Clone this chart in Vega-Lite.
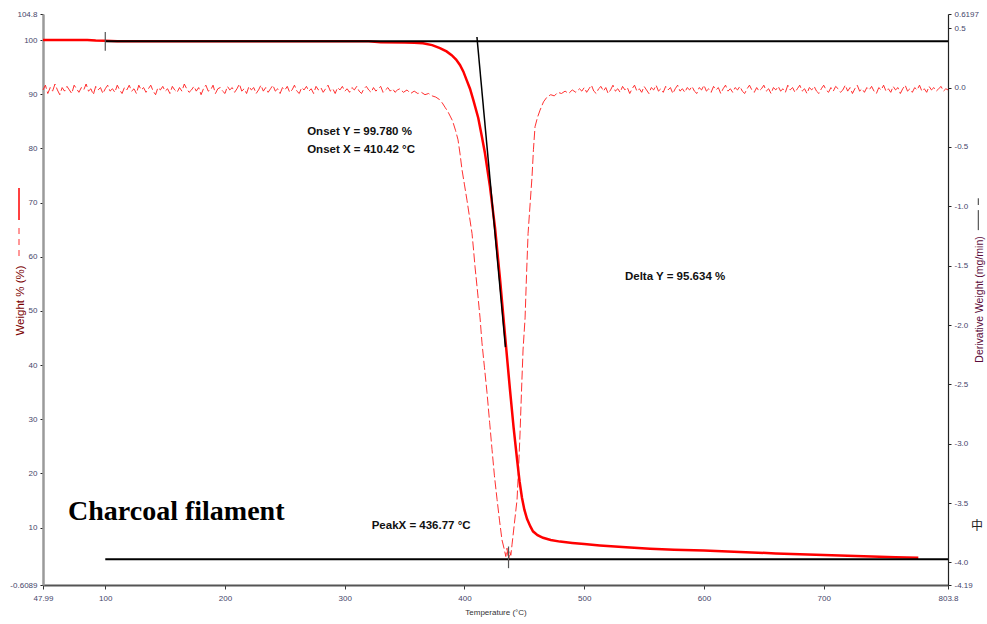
{
  "$schema": "https://vega.github.io/schema/vega-lite/v6.json",
  "width": 905,
  "height": 571,
  "autosize": {"type": "none"},
  "padding": {"left": 43, "top": 14, "right": 39, "bottom": 39},
  "background": "white",
  "config": {
    "view": {"stroke": null},
    "axis": {"grid": false, "labelFont": "Liberation Sans", "titleFont": "Liberation Sans", "labelFlush": false, "labelOverlap": false}
  },
  "datasets": {
    "deriv": [
      {"t":48,"d":-0.02},{"t":50,"d":0.02},{"t":52,"d":-0.05},{"t":54,"d":0.0},{"t":56,"d":-0.03},{"t":58,"d":0.03},{"t":60,"d":-0.02},{"t":62,"d":-0.06},{"t":64,"d":0.0},{"t":66,"d":-0.03},
      {"t":68,"d":0.01},{"t":70,"d":-0.02},{"t":72,"d":-0.05},{"t":74,"d":0.02},{"t":76,"d":-0.01},{"t":78,"d":-0.04},{"t":80,"d":0.0},{"t":82,"d":-0.02},{"t":84,"d":0.03},{"t":86,"d":-0.03},
      {"t":88,"d":-0.01},{"t":90,"d":-0.06},{"t":92,"d":0.01},{"t":94,"d":-0.02},{"t":96,"d":0.0},{"t":98,"d":-0.05},{"t":100,"d":-0.01},{"t":102,"d":0.02},{"t":104,"d":-0.03},{"t":106,"d":-0.01},
      {"t":108,"d":-0.04},{"t":110,"d":0.02},{"t":112,"d":-0.02},{"t":114,"d":-0.05},{"t":116,"d":0.0},{"t":118,"d":-0.02},{"t":120,"d":0.02},{"t":122,"d":-0.03},{"t":124,"d":-0.01},{"t":126,"d":-0.05},
      {"t":128,"d":0.02},{"t":130,"d":-0.02},{"t":132,"d":0.0},{"t":134,"d":-0.04},{"t":136,"d":-0.01},{"t":138,"d":0.02},{"t":140,"d":-0.03},{"t":142,"d":-0.06},{"t":144,"d":0.0},{"t":146,"d":-0.02},
      {"t":148,"d":0.01},{"t":150,"d":-0.03},{"t":152,"d":-0.01},{"t":154,"d":-0.05},{"t":156,"d":0.01},{"t":158,"d":-0.02},{"t":160,"d":-0.04},{"t":162,"d":0.0},{"t":164,"d":-0.03},{"t":166,"d":0.03},
      {"t":168,"d":-0.01},{"t":170,"d":-0.04},{"t":172,"d":-0.02},{"t":174,"d":0.01},{"t":176,"d":-0.03},{"t":178,"d":0.0},{"t":180,"d":-0.06},{"t":182,"d":-0.01},{"t":184,"d":0.02},{"t":186,"d":-0.03},
      {"t":188,"d":-0.02},{"t":190,"d":0.02},{"t":192,"d":-0.05},{"t":194,"d":-0.01},{"t":196,"d":0.0},{"t":198,"d":-0.03},{"t":200,"d":-0.05},{"t":202,"d":0.01},{"t":204,"d":-0.02},{"t":206,"d":0.0},
      {"t":208,"d":-0.04},{"t":210,"d":-0.01},{"t":212,"d":0.03},{"t":214,"d":-0.03},{"t":216,"d":-0.01},{"t":218,"d":-0.05},{"t":220,"d":0.01},{"t":222,"d":-0.02},{"t":224,"d":0.0},{"t":226,"d":-0.05},
      {"t":228,"d":-0.02},{"t":230,"d":0.02},{"t":232,"d":-0.03},{"t":234,"d":0.0},{"t":236,"d":-0.04},{"t":238,"d":-0.01},{"t":240,"d":0.02},{"t":242,"d":-0.03},{"t":244,"d":-0.01},{"t":246,"d":-0.05},
      {"t":248,"d":0.0},{"t":250,"d":-0.02},{"t":252,"d":0.01},{"t":254,"d":-0.04},{"t":256,"d":-0.02},{"t":258,"d":0.02},{"t":260,"d":-0.03},{"t":262,"d":-0.05},{"t":264,"d":0.0},{"t":266,"d":-0.02},
      {"t":268,"d":0.01},{"t":270,"d":-0.03},{"t":272,"d":-0.01},{"t":274,"d":-0.05},{"t":276,"d":0.01},{"t":278,"d":-0.02},{"t":280,"d":0.0},{"t":282,"d":-0.04},{"t":284,"d":-0.01},{"t":286,"d":0.02},
      {"t":288,"d":-0.03},{"t":290,"d":-0.01},{"t":292,"d":-0.05},{"t":294,"d":0.0},{"t":296,"d":-0.02},{"t":298,"d":0.01},{"t":300,"d":-0.03},{"t":302,"d":-0.01},{"t":304,"d":-0.04},{"t":306,"d":0.0},
      {"t":308,"d":-0.02},{"t":310,"d":0.01},{"t":312,"d":-0.03},{"t":314,"d":-0.05},{"t":316,"d":-0.01},{"t":318,"d":0.01},{"t":320,"d":-0.02},{"t":322,"d":-0.04},{"t":324,"d":0.0},{"t":326,"d":-0.03},
      {"t":328,"d":-0.01},{"t":330,"d":0.01},{"t":332,"d":-0.04},{"t":334,"d":-0.02},{"t":336,"d":0.0},{"t":338,"d":-0.03},{"t":340,"d":-0.01},{"t":342,"d":-0.04},{"t":344,"d":-0.02},{"t":346,"d":-0.01},
      {"t":349,"d":-0.04},{"t":352,"d":-0.02},{"t":355,"d":-0.05},{"t":358,"d":-0.03},{"t":361,"d":-0.05},{"t":364,"d":-0.04},{"t":367,"d":-0.06},{"t":370,"d":-0.05},{"t":373,"d":-0.07},{"t":376,"d":-0.08},
      {"t":379,"d":-0.1},{"t":381.5,"d":-0.13},{"t":384,"d":-0.17},{"t":386,"d":-0.2},{"t":388,"d":-0.24},{"t":390,"d":-0.28},{"t":392.5,"d":-0.36},{"t":394.6,"d":-0.44},{"t":396.3,"d":-0.56},{"t":397.9,"d":-0.69},
      {"t":400,"d":-0.82},{"t":402.1,"d":-0.95},{"t":404.2,"d":-1.09},{"t":406.3,"d":-1.23},{"t":407.5,"d":-1.36},{"t":408.8,"d":-1.51},{"t":411,"d":-1.73},{"t":413,"d":-1.94},{"t":414.6,"d":-2.15},{"t":416.7,"d":-2.36},
      {"t":418.8,"d":-2.57},{"t":421,"d":-2.82},{"t":423,"d":-3.05},{"t":425,"d":-3.27},{"t":427.2,"d":-3.47},{"t":429.3,"d":-3.65},{"t":431.3,"d":-3.81},{"t":433,"d":-3.88},{"t":434.5,"d":-3.95},{"t":435.5,"d":-3.88},
      {"t":436.77,"d":-3.99},{"t":437.8,"d":-3.91},{"t":438.7,"d":-3.94},{"t":439.7,"d":-3.85},{"t":441.8,"d":-3.66},{"t":443.9,"d":-3.47},{"t":445.2,"d":-3.2},{"t":446.4,"d":-2.91},{"t":447.6,"d":-2.56},{"t":448.9,"d":-2.21},
      {"t":450.6,"d":-1.94},{"t":451.8,"d":-1.58},{"t":453.1,"d":-1.23},{"t":454.8,"d":-0.98},{"t":456.4,"d":-0.75},{"t":457.6,"d":-0.52},{"t":458.9,"d":-0.33},{"t":461,"d":-0.25},{"t":463.1,"d":-0.19},{"t":466,"d":-0.12},
      {"t":468.9,"d":-0.08},{"t":472,"d":-0.06},{"t":475,"d":-0.07},{"t":478,"d":-0.04},{"t":481,"d":-0.05},{"t":484,"d":-0.03},{"t":487,"d":-0.05},{"t":490,"d":-0.02},{"t":493,"d":-0.04},{"t":496,"d":-0.01},
      {"t":498,"d":-0.03},{"t":500,"d":0.0},{"t":502,"d":-0.04},{"t":504,"d":-0.01},{"t":506,"d":0.02},{"t":508,"d":-0.03},{"t":510,"d":-0.05},{"t":512,"d":-0.01},{"t":514,"d":0.01},{"t":516,"d":-0.03},
      {"t":518,"d":0.0},{"t":520,"d":-0.05},{"t":522,"d":-0.02},{"t":524,"d":0.02},{"t":526,"d":-0.03},{"t":528,"d":-0.01},{"t":530,"d":-0.04},{"t":532,"d":0.01},{"t":534,"d":-0.02},{"t":536,"d":0.0},
      {"t":538,"d":-0.05},{"t":540,"d":-0.01},{"t":542,"d":0.02},{"t":544,"d":-0.03},{"t":546,"d":-0.01},{"t":548,"d":-0.04},{"t":550,"d":0.01},{"t":552,"d":-0.02},{"t":554,"d":-0.05},{"t":556,"d":0.0},
      {"t":558,"d":-0.02},{"t":560,"d":0.02},{"t":562,"d":-0.03},{"t":564,"d":-0.01},{"t":566,"d":-0.04},{"t":568,"d":0.01},{"t":570,"d":-0.02},{"t":572,"d":0.0},{"t":574,"d":-0.05},{"t":576,"d":-0.01},
      {"t":578,"d":0.02},{"t":580,"d":-0.03},{"t":582,"d":-0.01},{"t":584,"d":-0.04},{"t":586,"d":0.0},{"t":588,"d":-0.02},{"t":590,"d":0.01},{"t":592,"d":-0.03},{"t":594,"d":-0.05},{"t":596,"d":0.0},
      {"t":598,"d":-0.02},{"t":600,"d":0.02},{"t":602,"d":-0.03},{"t":604,"d":-0.01},{"t":606,"d":-0.04},{"t":608,"d":0.01},{"t":610,"d":-0.02},{"t":612,"d":0.0},{"t":614,"d":-0.05},{"t":616,"d":-0.01},
      {"t":618,"d":0.02},{"t":620,"d":-0.03},{"t":622,"d":-0.01},{"t":624,"d":-0.04},{"t":626,"d":0.0},{"t":628,"d":-0.02},{"t":630,"d":0.01},{"t":632,"d":-0.03},{"t":634,"d":-0.05},{"t":636,"d":-0.01},
      {"t":638,"d":0.02},{"t":640,"d":-0.02},{"t":642,"d":-0.04},{"t":644,"d":0.0},{"t":646,"d":-0.03},{"t":648,"d":-0.01},{"t":650,"d":0.02},{"t":652,"d":-0.03},{"t":654,"d":-0.01},{"t":656,"d":-0.05},
      {"t":658,"d":0.0},{"t":660,"d":-0.02},{"t":662,"d":0.01},{"t":664,"d":-0.03},{"t":666,"d":-0.01},{"t":668,"d":-0.04},{"t":670,"d":0.02},{"t":672,"d":-0.02},{"t":674,"d":0.0},{"t":676,"d":-0.04},
      {"t":678,"d":-0.01},{"t":680,"d":0.02},{"t":682,"d":-0.03},{"t":684,"d":-0.01},{"t":686,"d":-0.05},{"t":688,"d":0.0},{"t":690,"d":-0.02},{"t":692,"d":0.01},{"t":694,"d":-0.03},{"t":696,"d":-0.05},
      {"t":698,"d":-0.01},{"t":700,"d":0.02},{"t":702,"d":-0.02},{"t":704,"d":-0.04},{"t":706,"d":0.0},{"t":708,"d":-0.03},{"t":710,"d":0.01},{"t":712,"d":-0.01},{"t":714,"d":-0.04},{"t":716,"d":-0.02},
      {"t":718,"d":0.02},{"t":720,"d":-0.03},{"t":722,"d":0.0},{"t":724,"d":-0.05},{"t":726,"d":-0.01},{"t":728,"d":0.02},{"t":730,"d":-0.03},{"t":732,"d":-0.01},{"t":734,"d":-0.04},{"t":736,"d":0.0},
      {"t":738,"d":-0.02},{"t":740,"d":0.01},{"t":742,"d":-0.03},{"t":744,"d":-0.05},{"t":746,"d":0.0},{"t":748,"d":-0.02},{"t":750,"d":0.02},{"t":752,"d":-0.03},{"t":754,"d":-0.01},{"t":756,"d":-0.04},
      {"t":758,"d":0.01},{"t":760,"d":-0.02},{"t":762,"d":0.0},{"t":764,"d":-0.05},{"t":766,"d":-0.01},{"t":768,"d":0.02},{"t":770,"d":-0.03},{"t":772,"d":-0.01},{"t":774,"d":-0.04},{"t":776,"d":0.0},
      {"t":778,"d":-0.02},{"t":780,"d":0.02},{"t":782,"d":-0.03},{"t":784,"d":-0.01},{"t":786,"d":-0.04},{"t":788,"d":0.01},{"t":790,"d":-0.02},{"t":792,"d":0.0},{"t":794,"d":-0.03},{"t":796,"d":-0.01},
      {"t":798,"d":0.01},{"t":800,"d":-0.03},{"t":802,"d":-0.01},{"t":803.8,"d":-0.02}
    ],
    "weight": [
      {"t":48,"w":100},{"t":85,"w":100},{"t":92,"w":99.9},{"t":100,"w":99.85},{"t":110,"w":99.78},{"t":320,"w":99.75},{"t":330,"w":99.6},{"t":350,"w":99.55},{"t":358,"w":99.5},{"t":365.3,"w":99.4},
      {"t":373,"w":99.05},{"t":379.5,"w":98.5},{"t":385,"w":97.9},{"t":389.3,"w":97.2},{"t":393,"w":96.4},{"t":396.2,"w":95.4},{"t":399,"w":94.2},{"t":401.8,"w":92.6},{"t":404.6,"w":91.0},{"t":407.4,"w":88.9},
      {"t":411.5,"w":85.6},{"t":414.5,"w":82.2},{"t":417.1,"w":79.1},{"t":421.3,"w":72.9},{"t":425.5,"w":65.3},{"t":429.7,"w":55.8},{"t":433.8,"w":45.6},{"t":438,"w":35.4},{"t":441,"w":28.5},{"t":443.9,"w":22.6},
      {"t":446,"w":18.5},{"t":448,"w":15.5},{"t":450,"w":13.3},{"t":452.2,"w":11.6},{"t":455,"w":10.2},{"t":457.2,"w":9.3},{"t":461,"w":8.6},{"t":465.6,"w":8.1},{"t":472,"w":7.7},{"t":479.8,"w":7.4},
      {"t":490,"w":7.15},{"t":500,"w":6.95},{"t":513,"w":6.7},{"t":535,"w":6.35},{"t":555,"w":6.1},{"t":575,"w":5.92},{"t":600,"w":5.75},{"t":620,"w":5.58},{"t":640,"w":5.4},{"t":660,"w":5.22},
      {"t":680,"w":5.07},{"t":700,"w":4.95},{"t":720,"w":4.8},{"t":740,"w":4.65},{"t":760,"w":4.5},{"t":779,"w":4.4}
    ],
    "baselines": [
      {"t1":100,"t2":803.8,"w1":99.78,"w2":99.78},
      {"t1":100,"t2":803.8,"w1":4.146,"w2":4.146}
    ],
    "tangent": [
      {"t1":410.4,"t2":434.2,"w1":100.55,"w2":43.3}
    ],
    "ticks": [
      {"t1":100,"t2":100,"w1":101.5,"w2":98.0},
      {"t1":436.77,"t2":436.77,"w1":6.5,"w2":2.5}
    ],
    "legendSolid": [{"t1":27.95,"t2":27.95,"w1":72.68,"w2":66.77}],
    "legendDashed": [{"t1":27.95,"t2":27.95,"w1":65.29,"w2":59.39}],
    "legendRight": [
      {"t1":829.1,"t2":829.1,"w1":68.6,"w2":64.9},
      {"t1":829.1,"t2":829.1,"w1":70.78,"w2":69.54}
    ],
    "notes": [
      {"t":268.6,"w":82.46,"text":"Onset Y = 99.780 %"},
      {"t":268.6,"w":79.14,"text":"Onset X = 410.42 °C"},
      {"t":534,"w":55.7,"text":"Delta Y = 95.634 %"},
      {"t":322.5,"w":9.73,"text":"PeakX = 436.77 °C"}
    ],
    "caption": [{"t":68.9,"w":11.4,"text":"Charcoal filament"}],
    "ime": [{"t":828,"w":9.6,"text":"中"}]
  },
  "layer": [
    {
      "data": {"name": "deriv"},
      "mark": {"type": "line", "color": "#ff1a1a", "strokeWidth": 1, "strokeDash": [9, 3], "opacity": 0.9},
      "encoding": {
        "x": {
          "field": "t", "type": "quantitative",
          "scale": {"domain": [47.99, 803.8], "nice": false, "zero": false},
          "axis": {
            "values": [47.99, 100, 200, 300, 400, 500, 600, 700, 803.8],
            "labelExpr": "toString(datum.value)",
            "title": "Temperature (°C)",
            "titleFontSize": 8, "titleFontWeight": "normal", "titleColor": "#333333", "titlePadding": 6,
            "labelFontSize": 8, "labelColor": "#45456a", "labelPadding": 5,
            "domainColor": "#555555", "domainWidth": 2, "tickColor": "#333333", "tickSize": 4
          }
        },
        "y": {
          "field": "d", "type": "quantitative",
          "scale": {"domain": [-4.19, 0.6197], "nice": false, "zero": false},
          "axis": {
            "orient": "right",
            "values": [-4.19, -4, -3.5, -3, -2.5, -2, -1.5, -1, -0.5, 0, 0.5, 0.6197],
            "labelExpr": "datum.value == round(datum.value) ? toString(datum.value) + '.0' : toString(datum.value)",
            "title": "Derivative Weight (mg/min)",
            "titleFontSize": 10.5, "titleFontWeight": "normal", "titleColor": "#5a0a3a",
            "titleAngle": 270, "titleBaseline": "middle", "titleAlign": "center", "titleX": 31, "titleY": 285,
            "labelFontSize": 8, "labelColor": "#45456a", "labelPadding": 3,
            "domainColor": "#222222", "domainWidth": 1.2, "tickColor": "#222222", "tickSize": 3
          }
        }
      }
    },
    {
      "data": {"name": "weight"},
      "mark": {"type": "line", "color": "#ff0000", "strokeWidth": 2.5},
      "encoding": {
        "x": {"field": "t", "type": "quantitative", "scale": {"domain": [47.99, 803.8], "nice": false, "zero": false}},
        "y": {
          "field": "w", "type": "quantitative",
          "scale": {"domain": [-0.6089, 104.8], "nice": false, "zero": false},
          "axis": {
            "orient": "left",
            "values": [-0.6089, 10, 20, 30, 40, 50, 60, 70, 80, 90, 100, 104.8],
            "labelExpr": "toString(datum.value)",
            "title": "Weight % (%)",
            "titleFontSize": 11.5, "titleFontWeight": "normal", "titleColor": "#7a0000",
            "titleAngle": 270, "titleBaseline": "middle", "titleAlign": "center", "titleX": -23, "titleY": 286,
            "labelFontSize": 8, "labelColor": "#45456a", "labelPadding": 3,
            "domainColor": "#9a9a9a", "domainWidth": 2.5, "tickColor": "#222222", "tickSize": 3
          }
        }
      }
    },
    {
      "data": {"name": "baselines"},
      "mark": {"type": "rule", "color": "#000000", "strokeWidth": 2},
      "encoding": {
        "x": {"field": "t1", "type": "quantitative"},
        "x2": {"field": "t2"},
        "y": {"field": "w1", "type": "quantitative", "scale": {"domain": [-0.6089, 104.8], "nice": false, "zero": false}, "axis": null},
        "y2": {"field": "w2"}
      }
    },
    {
      "data": {"name": "tangent"},
      "mark": {"type": "rule", "color": "#000000", "strokeWidth": 1.5},
      "encoding": {
        "x": {"field": "t1", "type": "quantitative"},
        "x2": {"field": "t2"},
        "y": {"field": "w1", "type": "quantitative", "scale": {"domain": [-0.6089, 104.8], "nice": false, "zero": false}, "axis": null},
        "y2": {"field": "w2"}
      }
    },
    {
      "data": {"name": "ticks"},
      "mark": {"type": "rule", "color": "#555555", "strokeWidth": 1.2},
      "encoding": {
        "x": {"field": "t1", "type": "quantitative"},
        "x2": {"field": "t2"},
        "y": {"field": "w1", "type": "quantitative", "scale": {"domain": [-0.6089, 104.8], "nice": false, "zero": false}, "axis": null},
        "y2": {"field": "w2"}
      }
    },
    {
      "data": {"name": "legendSolid"},
      "mark": {"type": "rule", "color": "#ff0000", "strokeWidth": 1.5},
      "encoding": {
        "x": {"field": "t1", "type": "quantitative"},
        "x2": {"field": "t2"},
        "y": {"field": "w1", "type": "quantitative", "scale": {"domain": [-0.6089, 104.8], "nice": false, "zero": false}, "axis": null},
        "y2": {"field": "w2"}
      }
    },
    {
      "data": {"name": "legendDashed"},
      "mark": {"type": "rule", "color": "#ff3030", "strokeWidth": 1, "strokeDash": [6, 5]},
      "encoding": {
        "x": {"field": "t1", "type": "quantitative"},
        "x2": {"field": "t2"},
        "y": {"field": "w1", "type": "quantitative", "scale": {"domain": [-0.6089, 104.8], "nice": false, "zero": false}, "axis": null},
        "y2": {"field": "w2"}
      }
    },
    {
      "data": {"name": "legendRight"},
      "mark": {"type": "rule", "color": "#333333", "strokeWidth": 1},
      "encoding": {
        "x": {"field": "t1", "type": "quantitative"},
        "x2": {"field": "t2"},
        "y": {"field": "w1", "type": "quantitative", "scale": {"domain": [-0.6089, 104.8], "nice": false, "zero": false}, "axis": null},
        "y2": {"field": "w2"}
      }
    },
    {
      "data": {"name": "notes"},
      "mark": {"type": "text", "font": "Liberation Sans", "fontWeight": "bold", "fontSize": 11.5, "color": "#111111", "align": "left", "baseline": "alphabetic"},
      "encoding": {
        "x": {"field": "t", "type": "quantitative"},
        "y": {"field": "w", "type": "quantitative", "scale": {"domain": [-0.6089, 104.8], "nice": false, "zero": false}, "axis": null},
        "text": {"field": "text"}
      }
    },
    {
      "data": {"name": "caption"},
      "mark": {"type": "text", "font": "Liberation Serif", "fontWeight": "bold", "fontSize": 28, "color": "#000000", "align": "left", "baseline": "alphabetic"},
      "encoding": {
        "x": {"field": "t", "type": "quantitative"},
        "y": {"field": "w", "type": "quantitative", "scale": {"domain": [-0.6089, 104.8], "nice": false, "zero": false}, "axis": null},
        "text": {"field": "text"}
      }
    },
    {
      "data": {"name": "ime"},
      "mark": {"type": "text", "font": "Noto Sans CJK SC", "fontSize": 12, "color": "#222222", "align": "center", "baseline": "alphabetic"},
      "encoding": {
        "x": {"field": "t", "type": "quantitative"},
        "y": {"field": "w", "type": "quantitative", "scale": {"domain": [-0.6089, 104.8], "nice": false, "zero": false}, "axis": null},
        "text": {"field": "text"}
      }
    }
  ],
  "resolve": {"scale": {"y": "independent"}}
}
